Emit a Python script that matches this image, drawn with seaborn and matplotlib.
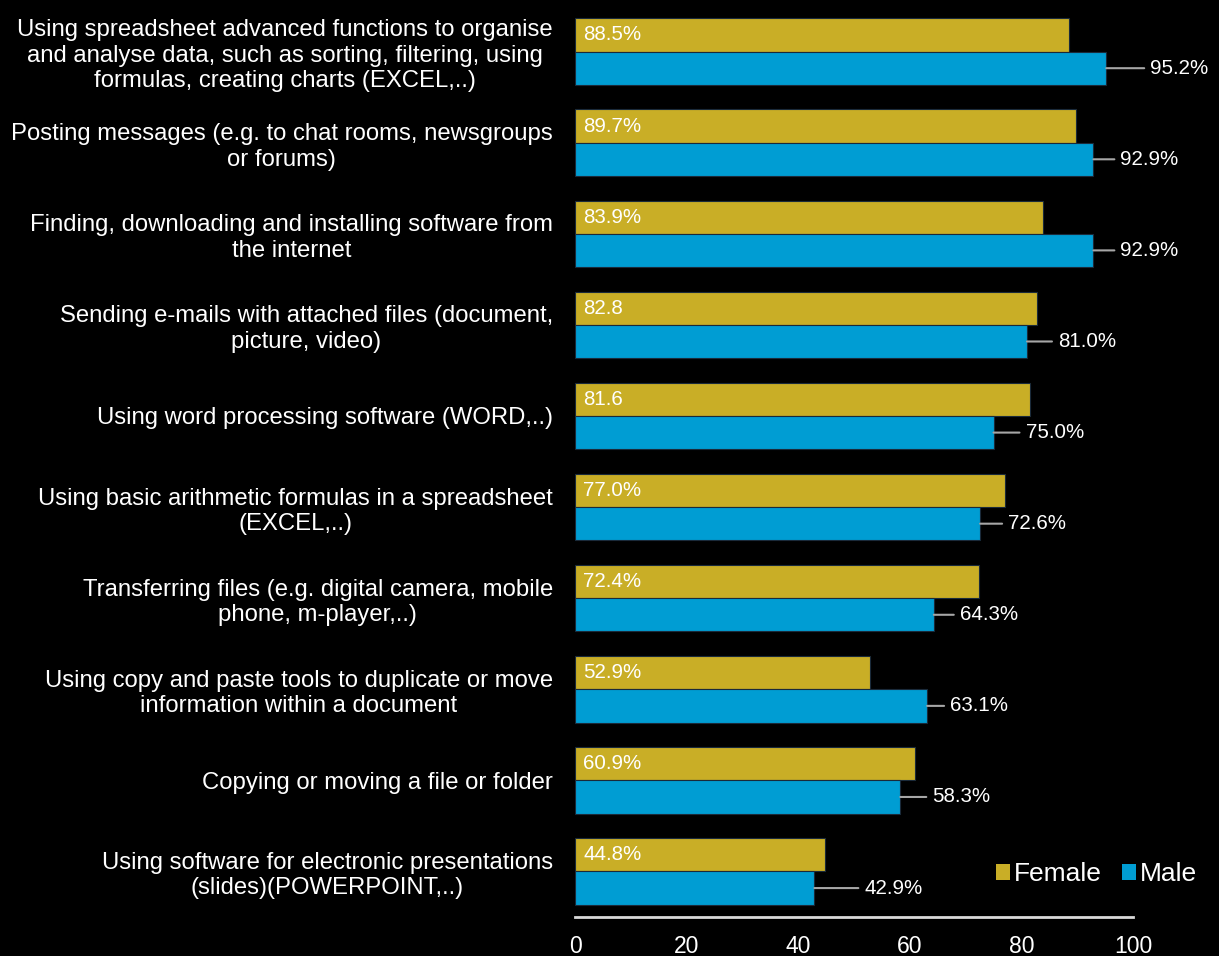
import matplotlib
matplotlib.use("Agg")
import matplotlib.pyplot as plt
import seaborn as sns
import pandas as pd

# Skill categories, top to bottom
categories = [
    "Using spreadsheet advanced functions to organise\nand analyse data, such as sorting, filtering, using\nformulas, creating charts (EXCEL,..)",
    "Posting messages (e.g. to chat rooms, newsgroups\nor forums)",
    "Finding, downloading and installing software from\nthe internet",
    "Sending e-mails with attached files (document,\npicture, video)",
    "Using word processing software (WORD,..)",
    "Using basic arithmetic formulas in a spreadsheet\n(EXCEL,..)",
    "Transferring files (e.g. digital camera, mobile\nphone, m-player,..)",
    "Using copy and paste tools to duplicate or move\ninformation within a document",
    "Copying or moving a file or folder",
    "Using software for electronic presentations\n(slides)(POWERPOINT,..)",
]
female = [88.5, 89.7, 83.9, 82.8, 81.6, 77.0, 72.4, 52.9, 60.9, 44.8]
male = [95.2, 92.9, 92.9, 81.0, 75.0, 72.6, 64.3, 63.1, 58.3, 42.9]
# some female labels are printed without a percent sign
female_pct_sign = [True, True, True, False, False, True, True, True, True, True]
series_names = ["Female", "Male"]
x_ticks = [0, 20, 40, 60, 80, 100]

# leader-line length (pixels) for the male labels
male_label_gap = [44, 27, 27, 31, 32, 28, 26, 23, 32, 50]

GOLD = "#C9AE26"
BLUE = "#009DD3"
FONT = ["Liberation Sans", "DejaVu Sans"]

sns.set_theme(style="white")
plt.rcParams["font.family"] = FONT
plt.rcParams["text.color"] = "white"

df = pd.DataFrame({
    "category": categories * 2,
    "value": female + male,
    "sex": [series_names[0]] * len(categories) + [series_names[1]] * len(categories),
})

fig = plt.figure(figsize=(12.19, 9.56), dpi=100, facecolor="black")
ax = fig.add_axes([0.4717, 0.0408, 0.4578, 0.9529])
ax.set_facecolor("black")

sns.barplot(
    data=df, y="category", x="value", hue="sex", orient="h",
    palette=[GOLD, BLUE], width=0.73, ax=ax, errorbar=None,
    edgecolor="#1a2a3a", linewidth=0.8, saturation=1.0,
)

ax.set_xlim(0, 100)
ax.set_ylim(len(categories) - 0.5, -0.5)
ax.set_xticks(x_ticks)
ax.set_xticklabels([str(t) for t in x_ticks])
ax.set_xlabel("")
ax.set_ylabel("")
ax.tick_params(axis="x", length=0, pad=13, labelsize=16.5, labelcolor="white")
ax.tick_params(axis="y", length=0, pad=16, labelsize=17.2, labelcolor="white")
for lab in ax.get_yticklabels():
    lab.set_multialignment("center")

for s in ["top", "right", "left"]:
    ax.spines[s].set_visible(False)
ax.spines["bottom"].set_color("#D9D9D9")
ax.spines["bottom"].set_linewidth(2)

female_bars = ax.containers[0]
male_bars = ax.containers[1]

for bar, v, pct in zip(female_bars, female, female_pct_sign):
    y = bar.get_y() + bar.get_height() / 2
    txt = f"{v:.1f}%" if pct else f"{v:.1f}"
    ax.text(1.5, y, txt, ha="left", va="center", color="white", fontsize=14.8)

for bar, v, gap in zip(male_bars, male, male_label_gap):
    y = bar.get_y() + bar.get_height() / 2
    ax.annotate(
        f"{v:.1f}%", xy=(v, y), xytext=(gap * 0.72, 0), textcoords="offset points",
        ha="left", va="center", color="white", fontsize=14.8,
        arrowprops=dict(arrowstyle="-", color="#A6A6A6", lw=1.5,
                        shrinkA=2, shrinkB=0),
    )

leg = ax.legend(
    loc="center left", bbox_to_anchor=(0.735, 0.047), ncol=2, frameon=False,
    fontsize=19, handlelength=0.55, handleheight=0.55, handletextpad=0.15,
    columnspacing=0.75, labelcolor="white", borderaxespad=0,
)
for h in leg.legend_handles:
    h.set_edgecolor("none")

fig.savefig("out.png", dpi=100, facecolor="black")
